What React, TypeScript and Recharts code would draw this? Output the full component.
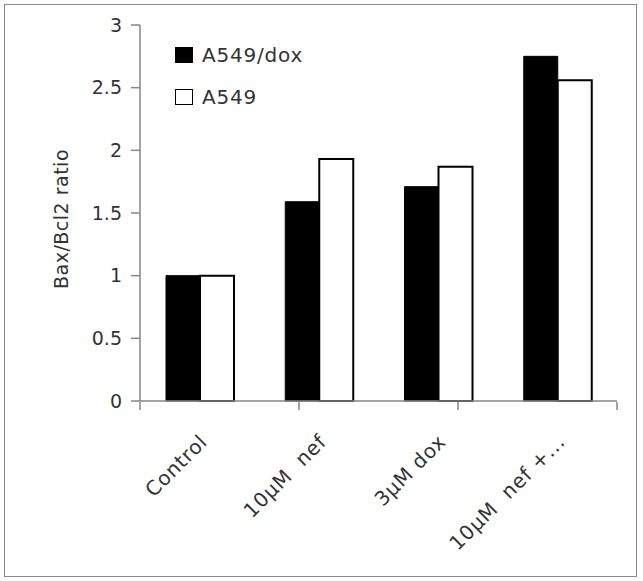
import { BarChart, Bar, XAxis, YAxis, Legend, Label } from 'recharts';

// values
const categories = ['Control', '10µM  nef', '3µM dox', '10µM  nef +...'];
const seriesNames = ['A549/dox', 'A549'];
const a549DoxValues = [1, 1.59, 1.71, 2.75];
const a549Values = [1, 1.93, 1.87, 2.56];
const yTicks = [0, 0.5, 1, 1.5, 2, 2.5, 3];
const edgeTicks = [0, 1, 2, 3, 4];

const data = categories.map((name, i) => ({
  name,
  dox: a549DoxValues[i],
  plain: a549Values[i],
}));

const FONT = '"DejaVu Sans", Verdana, sans-serif';
const TEXT = '#333333';
const AXIS = '#868686';

function CategoryTick(props: any) {
  const { x, y, payload } = props;
  const tx = x + 9;
  return (
    <text
      x={tx}
      y={y}
      transform={`rotate(-45 ${tx} ${y})`}
      textAnchor="end"
      fontSize={20}
      fontFamily={FONT}
      fill={TEXT}
      letterSpacing={0.8}
      style={{ whiteSpace: 'pre' }}
    >
      {payload.value}
    </text>
  );
}

function LegendBox(props: any) {
  const items = [...(props.payload || [])].sort(
    (a: any, b: any) => seriesNames.indexOf(a.value) - seriesNames.indexOf(b.value)
  );
  return (
    <div style={{ fontFamily: FONT, fontSize: 20, color: TEXT, letterSpacing: 0.8 }}>
      {items.map((entry: any) => (
        <div
          key={entry.value}
          style={{ display: 'flex', alignItems: 'center', height: 42 }}
        >
          <span
            style={{
              display: 'inline-block',
              width: 18,
              height: 16,
              background: entry.color,
              border: '1.5px solid #000',
              boxSizing: 'border-box',
              marginRight: 9,
            }}
          />
          <span>{entry.value}</span>
        </div>
      ))}
    </div>
  );
}

export default function App() {
  return (
    <div style={{ position: 'absolute', left: 0, top: 0, width: 643, height: 581, background: '#fff' }}>
      <div
        style={{
          position: 'absolute',
          left: 4,
          top: 4,
          width: 633,
          height: 573,
          border: '1.5px solid #8a8a8a',
          boxSizing: 'border-box',
        }}
      />
      <div style={{ position: 'absolute', left: 0, top: 0 }}>
        <BarChart
          width={643}
          height={581}
          data={data}
          margin={{ top: 25, right: 26, left: 40, bottom: 178 }}
          barGap={0}
        >
          <XAxis
            dataKey="name"
            height={1}
            axisLine={{ stroke: AXIS, strokeWidth: 1.5 }}
            tickLine={false}
            tickSize={0}
            tickMargin={42}
            tick={<CategoryTick />}
            interval={0}
          />
          <XAxis
            xAxisId="edge"
            type="number"
            domain={[0, 4]}
            ticks={edgeTicks}
            height={1}
            axisLine={false}
            tickLine={{ stroke: AXIS, strokeWidth: 1.5 }}
            tickSize={8}
            tickFormatter={() => ''}
          />
          <YAxis
            width={100}
            domain={[0, 3]}
            ticks={yTicks}
            interval={0}
            axisLine={{ stroke: AXIS, strokeWidth: 1.5 }}
            tickLine={{ stroke: AXIS, strokeWidth: 1.5 }}
            tickSize={9}
            tickMargin={9}
            tick={{ fontSize: 19, fontFamily: FONT, fill: TEXT }}
          >
            <Label
              content={(p: any) => {
                const vb = p.viewBox || {};
                const cx = vb.x + 28;
                const cy = vb.y + vb.height / 2 + 6;
                return (
                  <text
                    x={cx}
                    y={cy}
                    transform={`rotate(-90 ${cx} ${cy})`}
                    textAnchor="middle"
                    fontSize={19}
                    fontFamily={FONT}
                    fill={TEXT}
                    letterSpacing={0.5}
                  >
                    Bax/Bcl2 ratio
                  </text>
                );
              }}
            />
          </YAxis>
          <Legend
            layout="vertical"
            align="center"
            verticalAlign="middle"
            content={<LegendBox />}
            wrapperStyle={{ left: 175, top: 34, width: 220 }}
          />
          <Bar
            dataKey="dox"
            name={seriesNames[0]}
            fill="#000000"
            stroke="#000000"
            strokeWidth={1}
            barSize={34}
            isAnimationActive={false}
          />
          <Bar
            dataKey="plain"
            name={seriesNames[1]}
            fill="#ffffff"
            stroke="#000000"
            strokeWidth={2}
            barSize={34}
            isAnimationActive={false}
          />
        </BarChart>
      </div>
    </div>
  );
}
